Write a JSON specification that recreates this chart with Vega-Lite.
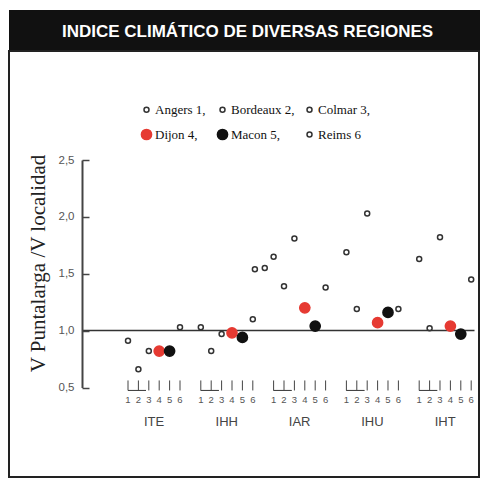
{
  "$schema": "https://vega.github.io/schema/vega-lite/v6.json",
  "padding": {"left": 8, "top": 10, "right": 0, "bottom": 0},
  "background": "white",
  "spacing": 0,
  "config": {"font": "Liberation Sans"},
  "datasets": {
    "points": [
      {"index": "ITE", "series": "Angers 1", "station": 1, "value": 0.91},
      {"index": "ITE", "series": "Bordeaux 2", "station": 2, "value": 0.66},
      {"index": "ITE", "series": "Colmar 3", "station": 3, "value": 0.82},
      {"index": "ITE", "series": "Dijon 4", "station": 4, "value": 0.82},
      {"index": "ITE", "series": "Macon 5", "station": 5, "value": 0.82},
      {"index": "ITE", "series": "Reims 6", "station": 6, "value": 1.03},
      {"index": "IHH", "series": "Angers 1", "station": 1, "value": 1.03},
      {"index": "IHH", "series": "Bordeaux 2", "station": 2, "value": 0.82},
      {"index": "IHH", "series": "Colmar 3", "station": 3, "value": 0.97},
      {"index": "IHH", "series": "Dijon 4", "station": 4, "value": 0.98},
      {"index": "IHH", "series": "Macon 5", "station": 5, "value": 0.94},
      {"index": "IHH", "series": "Reims 6", "station": 6, "value": 1.10},
      {"index": "IAR", "series": "Angers 1", "station": -0.8, "value": 1.54},
      {"index": "IAR", "series": "Bordeaux 2", "station": 0.15, "value": 1.55},
      {"index": "IAR", "series": "Angers 1", "station": 1, "value": 1.65},
      {"index": "IAR", "series": "Bordeaux 2", "station": 2, "value": 1.39},
      {"index": "IAR", "series": "Colmar 3", "station": 3, "value": 1.81},
      {"index": "IAR", "series": "Dijon 4", "station": 4, "value": 1.20},
      {"index": "IAR", "series": "Macon 5", "station": 5, "value": 1.04},
      {"index": "IAR", "series": "Reims 6", "station": 6, "value": 1.38},
      {"index": "IHU", "series": "Angers 1", "station": 1, "value": 1.69},
      {"index": "IHU", "series": "Bordeaux 2", "station": 2, "value": 1.19},
      {"index": "IHU", "series": "Colmar 3", "station": 3, "value": 2.03},
      {"index": "IHU", "series": "Dijon 4", "station": 4, "value": 1.07},
      {"index": "IHU", "series": "Macon 5", "station": 5, "value": 1.16},
      {"index": "IHU", "series": "Reims 6", "station": 6, "value": 1.19},
      {"index": "IHT", "series": "Angers 1", "station": 1, "value": 1.63},
      {"index": "IHT", "series": "Bordeaux 2", "station": 2, "value": 1.02},
      {"index": "IHT", "series": "Colmar 3", "station": 3, "value": 1.82},
      {"index": "IHT", "series": "Dijon 4", "station": 4, "value": 1.04},
      {"index": "IHT", "series": "Macon 5", "station": 5, "value": 0.97},
      {"index": "IHT", "series": "Reims 6", "station": 6, "value": 1.45}
    ]
  },
  "vconcat": [
    {
      "width": 471,
      "height": 40,
      "view": {"fill": "#111111", "stroke": null},
      "data": {"values": [{"title": "INDICE CLIMÁTICO DE DIVERSAS REGIONES"}]},
      "mark": {"type": "text", "font": "Liberation Sans", "fontWeight": "bold", "fontSize": 17, "color": "white", "align": "center", "baseline": "middle", "dx": 3, "dy": 2},
      "encoding": {"text": {"field": "title", "type": "nominal"}}
    },
    {
      "width": 470,
      "height": 426,
      "view": {"stroke": "#222222", "strokeWidth": 2},
      "data": {"name": "points"},
      "resolve": {"axis": {"x": "independent"}},
      "layer": [
        {
          "transform": [{"filter": "datum.station == 1"}],
          "mark": {"type": "bar", "fill": "transparent", "stroke": "#444444", "strokeWidth": 1},
          "encoding": {
            "x": {"field": "index", "type": "nominal",
              "scale": {"domain": ["ITE", "IHH", "IAR", "IHU", "IHT"], "range": [73, 465], "paddingInner": 0.2857, "paddingOuter": 0.3352, "align": 0.9426},
              "axis": {"orient": "bottom", "offset": -67, "domain": false, "ticks": false, "labelPadding": 5, "labelAngle": 0, "labelFont": "Liberation Sans", "labelFontSize": 13, "labelColor": "#444444", "title": null, "grid": false}},
            "y": {"datum": 0.474, "type": "quantitative", "scale": {"domain": [0.5, 2.5], "range": [336.5, 109], "zero": false, "nice": false}},
            "y2": {"datum": 0.474}
          }
        },
        {
          "transform": [{"filter": "datum.station >= 1"}],
          "mark": {"type": "rule", "stroke": "#444444", "strokeWidth": 1},
          "encoding": {
            "x": {"field": "index", "type": "nominal",
              "scale": {"domain": ["ITE", "IHH", "IAR", "IHU", "IHT"], "range": [73, 465], "paddingInner": 0.2857, "paddingOuter": 0.3352, "align": 0.9426},
              "axis": null},
            "xOffset": {"field": "station", "type": "quantitative", "scale": {"domain": [1, 6], "range": [0, 52], "zero": false, "nice": false}},
            "y": {"datum": 0.474, "type": "quantitative", "scale": {"domain": [0.5, 2.5], "range": [336.5, 109], "zero": false, "nice": false}},
            "y2": {"datum": 0.562}
          }
        },
        {
          "transform": [{"filter": "datum.station >= 1"}],
          "mark": {"type": "text", "font": "Liberation Sans", "fontSize": 9.5, "color": "#555555", "baseline": "middle", "align": "center"},
          "encoding": {
            "x": {"field": "index", "type": "nominal",
              "scale": {"domain": ["ITE", "IHH", "IAR", "IHU", "IHT"], "range": [73, 465], "paddingInner": 0.2857, "paddingOuter": 0.3352, "align": 0.9426},
              "axis": null},
            "xOffset": {"field": "station", "type": "quantitative", "scale": {"domain": [1, 6], "range": [0, 52], "zero": false, "nice": false}},
            "y": {"datum": 0.394, "type": "quantitative", "scale": {"domain": [0.5, 2.5], "range": [336.5, 109], "zero": false, "nice": false}},
            "text": {"field": "station", "type": "quantitative"}
          }
        },
        {
          "mark": {"type": "point", "shape": "circle", "filled": true, "strokeWidth": 1.5, "opacity": 1},
          "encoding": {
            "x": {"field": "index", "type": "nominal",
              "scale": {"domain": ["ITE", "IHH", "IAR", "IHU", "IHT"], "range": [73, 465], "paddingInner": 0.2857, "paddingOuter": 0.3352, "align": 0.9426},
              "axis": {"orient": "bottom", "offset": -147, "domain": true, "domainColor": "#333333", "domainWidth": 1.5, "ticks": false, "labels": false, "title": null, "grid": false}},
            "xOffset": {"field": "station", "type": "quantitative", "scale": {"domain": [1, 6], "range": [0, 52], "zero": false, "nice": false}},
            "y": {"field": "value", "type": "quantitative",
              "scale": {"domain": [0.5, 2.5], "range": [336.5, 109], "zero": false, "nice": false},
              "axis": {"values": [0.5, 1, 1.5, 2, 2.5], "offset": -73, "labelExpr": "replace(format(datum.value, '.1f'), '.', ',')", "tickSize": -7, "tickWidth": 1.5, "tickColor": "#444444", "domainColor": "#444444", "domainWidth": 2, "labelPadding": 15, "labelFont": "Liberation Sans", "labelFontSize": 11.5, "labelColor": "#555555", "title": "V Puntalarga /V localidad", "titleFont": "Liberation Serif", "titleFontSize": 21, "titleFontWeight": "normal", "titleColor": "#222222", "titlePadding": 10, "titleY": 212, "grid": false}},
            "fill": {"field": "series", "type": "nominal",
              "scale": {"type": "ordinal", "domain": ["Angers 1", "Bordeaux 2", "Colmar 3", "Dijon 4", "Macon 5", "Reims 6"], "range": ["transparent", "transparent", "transparent", "#e63a32", "#111111", "transparent"]},
              "legend": {"title": null, "orient": "none", "legendX": 131, "legendY": 93, "direction": "horizontal", "columns": 3, "labelFont": "Liberation Serif", "labelFontSize": 13, "labelColor": "#111111", "labelExpr": "datum.label == 'Reims 6' ? datum.label : datum.label + ','", "columnPadding": 8, "rowPadding": 9, "labelOffset": 2, "symbolType": "circle", "symbolStrokeWidth": 1.5}},
            "stroke": {"field": "series", "type": "nominal",
              "scale": {"type": "ordinal", "domain": ["Angers 1", "Bordeaux 2", "Colmar 3", "Dijon 4", "Macon 5", "Reims 6"], "range": ["#333333", "#333333", "#333333", "#e63a32", "#111111", "#333333"]},
              "legend": {"title": null, "orient": "none", "legendX": 131, "legendY": 93, "direction": "horizontal", "columns": 3, "labelFont": "Liberation Serif", "labelFontSize": 13, "labelColor": "#111111", "labelExpr": "datum.label == 'Reims 6' ? datum.label : datum.label + ','", "columnPadding": 8, "rowPadding": 9, "labelOffset": 2, "symbolType": "circle", "symbolStrokeWidth": 1.5}},
            "size": {"field": "series", "type": "nominal",
              "scale": {"type": "ordinal", "domain": ["Angers 1", "Bordeaux 2", "Colmar 3", "Dijon 4", "Macon 5", "Reims 6"], "range": [25, 25, 25, 104, 104, 25]},
              "legend": {"title": null, "orient": "none", "legendX": 131, "legendY": 93, "direction": "horizontal", "columns": 3, "labelFont": "Liberation Serif", "labelFontSize": 13, "labelColor": "#111111", "labelExpr": "datum.label == 'Reims 6' ? datum.label : datum.label + ','", "columnPadding": 8, "rowPadding": 9, "labelOffset": 2, "symbolType": "circle", "symbolStrokeWidth": 1.5}}
          }
        }
      ]
    }
  ]
}
